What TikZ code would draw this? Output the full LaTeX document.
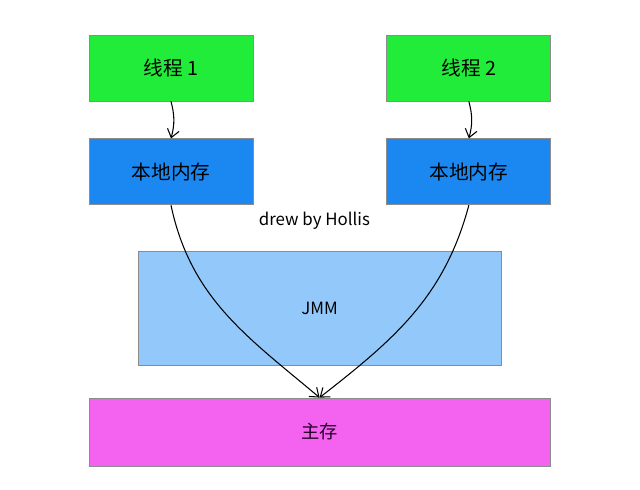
\documentclass[tikz,border=0pt]{standalone}
\usepackage{fontspec}
\setmainfont{Noto Sans CJK SC}
\usetikzlibrary{arrows.meta, positioning}

\definecolor{xcgreen}{RGB}{34,236,58}
\definecolor{bdblue}{RGB}{26,136,240}
\definecolor{jmmblue}{RGB}{146,200,250}
\definecolor{zcpink}{RGB}{244,98,240}

\begin{document}
\begin{tikzpicture}[
				node distance=0.925cm and 3.325cm,
				xiancheng/.style={draw=black!45, rectangle, minimum width=4.1cm, minimum height=1.65cm, align=center, font=\fontsize{14}{16}\selectfont, fill=xcgreen, line width=0.6pt, inner sep=0pt},
				bendi/.style={xiancheng, fill=bdblue},
				jmmbox/.style={draw=black!45, rectangle, minimum width=9.075cm, minimum height=2.85cm, align=center, font=\fontsize{12}{14}\selectfont, fill=jmmblue, line width=0.6pt},
				zhucun/.style={draw=black!45, rectangle, minimum width=11.525cm, minimum height=1.7cm, align=center, font=\fontsize{13}{15}\selectfont, fill=zcpink, text=black!70!violet, line width=0.6pt},
				jiantou/.style={-{Straight Barb[length=2mm,width=3mm]}, line width=0.75pt}
			]
			\useasboundingbox (0,0) rectangle (16,-12.225);
			\node[xiancheng] (t1) at (4.275,-1.7) {线程 1};
			\node[bendi, below=of t1] (l1) {本地内存};
			\node[xiancheng, right=of t1] (t2) {线程 2};
			\node[bendi, below=of t2] (l2) {本地内存};
			\node[font=\fontsize{12}{14}\selectfont] (sign) at (7.86,-5.525) {drew by Hollis};
			\node[jmmbox] (jmm) at (7.99,-7.7) {JMM};
			\node[zhucun] (main) at (7.99,-10.8) {主存};

			% Thread to local memory
			\draw[jiantou] (t1.south) to[bend left=15] (l1.north);
			\draw[jiantou] (t2.south) to[bend left=15] (l2.north);

			% Local memory to main memory
			\draw[jiantou] (l1.south) to[out=-78, in=140] (main.north);
			\draw[jiantou] (l2.south) to[out=-105, in=38] (main.north);
		\end{tikzpicture}
\end{document}
